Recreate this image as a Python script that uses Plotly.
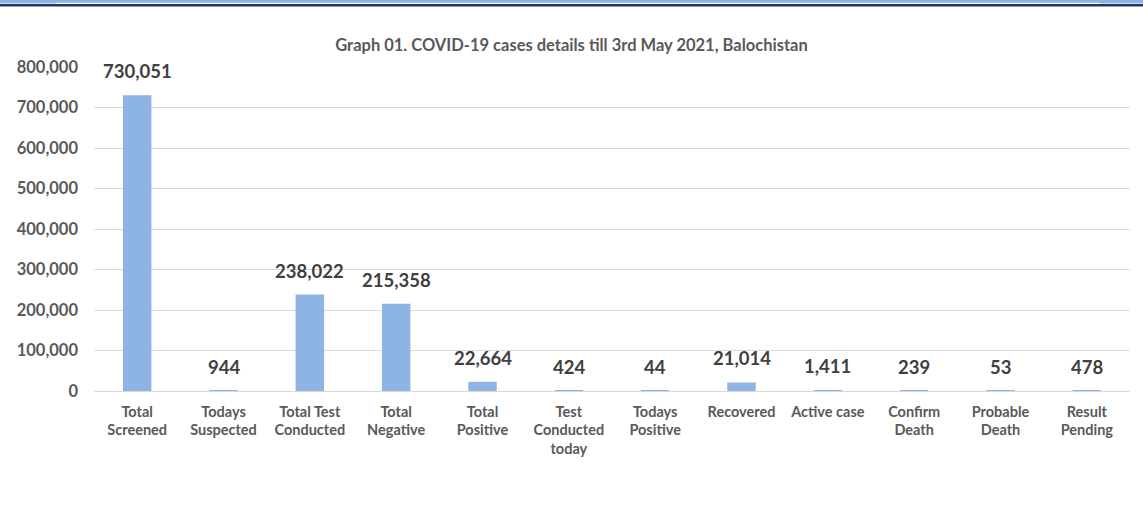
import plotly.graph_objects as go

categories = ["Total<br>Screened", "Todays<br>Suspected", "Total Test<br>Conducted", "Total<br>Negative",
              "Total<br>Positive", "Test<br>Conducted<br>today", "Todays<br>Positive", "Recovered",
              "Active case", "Confirm<br>Death", "Probable<br>Death", "Result<br>Pending"]
values = [730051, 944, 238022, 215358, 22664, 424, 44, 21014, 1411, 239, 53, 478]
y_ticks = [0, 100000, 200000, 300000, 400000, 500000, 600000, 700000, 800000]

title_text = "Graph 01. COVID-19 cases details till 3rd May 2021, Balochistan"
FONT = "Lato"
GREY = "#595959"

W, H = 1143, 516
ML, MR, MT, MB = 94, 13, 67, 125
PH = H - MT - MB
PW = W - ML - MR

fig = go.Figure()
fig.add_trace(go.Bar(x=categories, y=values, marker=dict(color="#8EB4E3", line=dict(width=0)),
                     hoverinfo="x+y"))

for c, v in zip(categories, values):
    fig.add_annotation(x=c, y=v, text=f"{v:,}", showarrow=False, yanchor="bottom", yshift=11,
                       font=dict(family=FONT, size=18.5, color="#404040", weight="bold"))

def py(p):
    return 1 + (MT - p) / PH

def px(p):
    return (p - ML) / PW

# decorative top strip
fig.add_shape(type="rect", xref="paper", yref="paper", x0=px(-2), x1=px(W + 2),
              y0=py(3.5), y1=py(-1), fillcolor="#8DB3E2", line=dict(width=0))
fig.add_shape(type="line", xref="paper", yref="paper", x0=px(56), x1=px(1100),
              y0=py(3.3), y1=py(3.3), line=dict(color="white", width=1))
fig.add_shape(type="rect", xref="paper", yref="paper", x0=px(-2), x1=px(W + 2),
              y0=py(6.5), y1=py(4), fillcolor="#1F3864", line=dict(width=0))

fig.update_layout(
    width=W, height=H,
    margin=dict(l=ML, r=MR, t=MT, b=MB),
    paper_bgcolor="white", plot_bgcolor="white",
    bargap=0.67,
    showlegend=False,
    title=dict(text=title_text, x=0.5, xanchor="center", y=1 - 45 / H, yanchor="middle",
               font=dict(family=FONT, size=16.5, color=GREY, weight="bold")),
    xaxis=dict(showgrid=False, showline=False, ticks="", tickangle=0, automargin=False,
               ticklabelstandoff=10,
               tickfont=dict(family=FONT, size=14.5, color=GREY, weight="bold")),
    yaxis=dict(range=[0, 800000], tickvals=y_ticks, tickformat=",", showgrid=True, gridcolor="#D9D9D9",
               gridwidth=1.3, zeroline=True, zerolinecolor="#D9D9D9", zerolinewidth=1.3,
               showline=False, ticks="", ticklabelstandoff=15, automargin=False,
               tickfont=dict(family=FONT, size=16.5, color=GREY, weight="bold")),
)

fig.write_html("out.html", config={"displayModeBar": False},
               post_script="document.body.style.margin='0';")
